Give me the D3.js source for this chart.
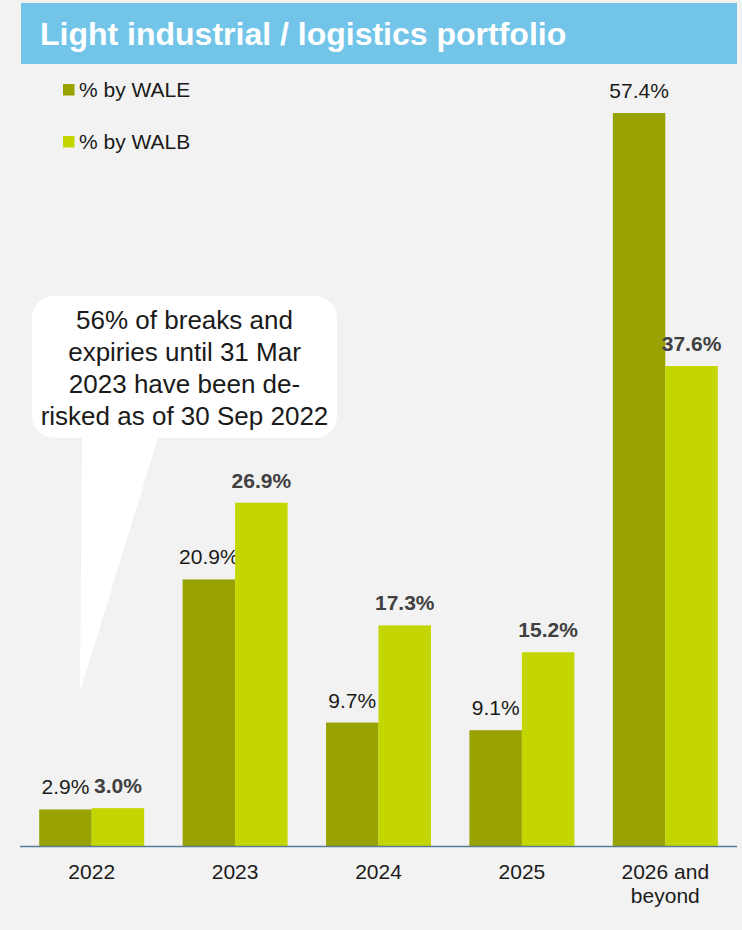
<!DOCTYPE html>
<html>
<head>
<meta charset="utf-8">
<script src="https://cdn.jsdelivr.net/npm/d3@7"></script>
<style>
  html, body { margin: 0; padding: 0; background: #f2f2f2; }
  svg { display: block; font-family: "Liberation Sans", Arial, sans-serif; }
</style>
</head>
<body>
<svg id="chart" width="742" height="930"></svg>
<script>
// Lease expiry profile, light industrial / logistics portfolio
const categories = ["2022", "2023", "2024", "2025", "2026 and beyond"];
const categoryLines = [["2022"], ["2023"], ["2024"], ["2025"], ["2026 and", "beyond"]];
const seriesNames = ["% by WALE", "% by WALB"];
const waleValues = [2.9, 20.9, 9.7, 9.1, 57.4];
const walbValues = [3.0, 26.9, 17.3, 15.2, 37.6];
const calloutLines = [
  "56% of breaks and",
  "expiries until 31 Mar",
  "2023 have been de-",
  "risked as of 30 Sep 2022"
];

const colors = ["#98a200", "#c4d600"];
const labelStyles = [
  { weight: "normal", fill: "#1a1a1a" },
  { weight: "bold", fill: "#404040" }
];

const svg = d3.select("#chart");
const W = 742, H = 930;
svg.append("rect").attr("width", W).attr("height", H).attr("fill", "#f2f2f2");

// Title banner
svg.append("rect")
  .attr("x", 21).attr("y", 3).attr("width", 716).attr("height", 61)
  .attr("fill", "#72c5e8");
svg.append("text")
  .attr("x", 40).attr("y", 45)
  .attr("fill", "#ffffff")
  .attr("font-size", 32).attr("font-weight", "bold")
  .text("Light industrial / logistics portfolio");

// Scales
const plotLeft = 20, plotRight = 737, baseY = 846.5;
const x = d3.scaleBand().domain(categories).range([plotLeft, plotRight])
  .paddingInner(0.268).paddingOuter(0.134);
const xs = d3.scaleBand().domain([0, 1]).range([0, x.bandwidth()]);
const y = d3.scaleLinear().domain([0, 60]).range([baseY, baseY - 60 * (733.5 / 57.4)]);

const series = [waleValues, walbValues];

// Callout bubble (drawn behind the bars)
const bx = 32, by = 296, bw = 305, bh = 142, r = 22;
const tailL = 82, tailR = 158, tipX = 80, tipY = 692;
const bubble = d3.path();
bubble.moveTo(bx + r, by);
bubble.lineTo(bx + bw - r, by);
bubble.arcTo(bx + bw, by, bx + bw, by + r, r);
bubble.lineTo(bx + bw, by + bh - r);
bubble.arcTo(bx + bw, by + bh, bx + bw - r, by + bh, r);
bubble.lineTo(tailR, by + bh);
bubble.lineTo(tipX, tipY);
bubble.lineTo(tailL, by + bh);
bubble.lineTo(bx + r, by + bh);
bubble.arcTo(bx, by + bh, bx, by + bh - r, r);
bubble.lineTo(bx, by + r);
bubble.arcTo(bx, by, bx + r, by, r);
bubble.closePath();
svg.append("path").attr("d", bubble.toString()).attr("fill", "#ffffff");

svg.append("g")
  .selectAll("text")
  .data(calloutLines)
  .join("text")
  .attr("x", bx + bw / 2)
  .attr("y", (d, i) => 329 + i * 32)
  .attr("text-anchor", "middle")
  .attr("font-size", 26)
  .attr("fill", "#1a1a1a")
  .text(d => d);

// Bars
series.forEach((vals, s) => {
  const g = svg.append("g");
  g.selectAll("rect")
    .data(vals)
    .join("rect")
    .attr("x", (d, i) => x(categories[i]) + xs(s))
    .attr("y", d => y(d))
    .attr("width", xs.bandwidth())
    .attr("height", d => y(0) - y(d))
    .attr("fill", colors[s]);
  g.selectAll("text")
    .data(vals)
    .join("text")
    .attr("x", (d, i) => x(categories[i]) + xs(s) + xs.bandwidth() / 2)
    .attr("y", d => y(d) - 15)
    .attr("text-anchor", "middle")
    .attr("font-size", 21)
    .attr("font-weight", labelStyles[s].weight)
    .attr("fill", labelStyles[s].fill)
    .text(d => d.toFixed(1) + "%");
});

// Category axis
const axis = svg.append("g").attr("transform", `translate(0,${baseY})`)
  .call(d3.axisBottom(x).tickSize(0).tickFormat(""));
axis.select(".domain").attr("stroke", "#5a7d96").attr("stroke-width", 1.5)
  .attr("d", `M${plotLeft},0H${plotRight}`);
axis.selectAll(".tick").each(function (d, i) {
  const t = d3.select(this).append("text")
    .attr("fill", "#1a1a1a")
    .attr("font-size", 21)
    .attr("text-anchor", "middle");
  categoryLines[i].forEach((line, j) => {
    t.append("tspan").attr("x", 0).attr("y", 32 + j * 24).text(line);
  });
});

// Legend
const legend = svg.append("g").selectAll("g")
  .data(seriesNames)
  .join("g")
  .attr("transform", (d, i) => `translate(63,${84 + i * 52})`);
legend.append("rect")
  .attr("width", 11.5).attr("height", 11.5)
  .attr("fill", (d, i) => colors[i]);
legend.append("text")
  .attr("x", 16).attr("y", 13)
  .attr("font-size", 21)
  .attr("fill", "#1a1a1a")
  .text(d => d);
</script>
</body>
</html>
